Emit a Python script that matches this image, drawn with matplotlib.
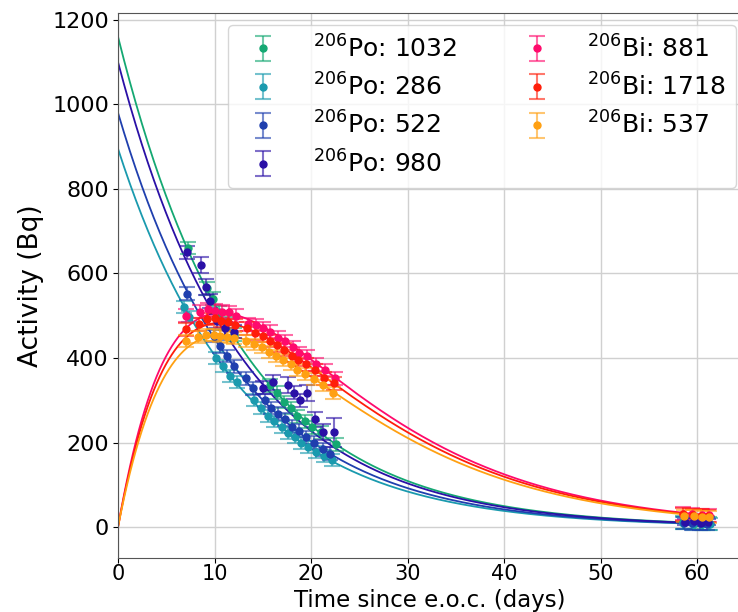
import numpy as np
import matplotlib
matplotlib.use("Agg")
import matplotlib.pyplot as plt
from matplotlib.colors import to_rgba

# half-lives (days) used for the fitted curves
T_PO = 8.8
T_BI = 6.243

# --- 206Po (decay) series ---
po_labels = ["1032", "286", "522", "980"]
po_colors = ["#14a872", "#1a9aae", "#1f3fae", "#2a10a6"]
po_fit_A0 = [1160, 895, 980, 1100]

po1032_t = [7.3, 9.2, 9.8, 10.5, 11.2, 12.0, 15.8, 16.5, 17.2, 17.9, 18.6, 19.4, 20.1, 21.0, 22.6, 58.6, 59.8, 60.6, 61.2]
po1032_a = [660, 565, 540, 508, 482, 455, 335, 318, 296, 282, 262, 250, 236, 224, 196, 11, 10, 9, 9]
po286_t = [6.8, 7.4, 10.2, 10.9, 11.6, 12.3, 14.1, 14.8, 15.5, 16.2, 17.0, 17.6, 18.3, 19.0, 19.7, 20.5, 21.3, 22.2, 58.5, 59.6, 60.5, 61.3]
po286_a = [520, 498, 400, 382, 358, 343, 300, 282, 262, 250, 237, 222, 212, 198, 190, 178, 168, 158, 9, 8, 7, 7]
po522_t = [7.1, 9.9, 10.6, 11.3, 12.0, 13.3, 14.0, 15.2, 15.9, 16.6, 17.3, 18.0, 18.8, 19.5, 20.3, 21.2, 22.0, 58.7, 59.5, 60.3, 61.0]
po522_a = [552, 452, 428, 405, 380, 352, 328, 300, 282, 268, 255, 238, 228, 212, 200, 184, 174, 10, 9, 9, 8]
po980_t = [7.2, 8.6, 9.1, 9.5, 10.3, 11.1, 12.0, 15.0, 16.1, 17.6, 18.2, 18.9, 19.6, 20.4, 21.2, 22.4, 58.8, 59.7, 60.4, 61.1]
po980_a = [650, 620, 568, 535, 488, 470, 462, 330, 343, 336, 318, 300, 317, 255, 225, 224, 12, 14, 10, 12]
po980_err = [15, 20, 18, 16, 16, 15, 15, 16, 18, 18, 16, 16, 18, 18, 18, 35, 8, 8, 8, 8]

po_t = [po1032_t, po286_t, po522_t, po980_t]
po_a = [po1032_a, po286_a, po522_a, po980_a]
po_yerr = [15, 14, 15, po980_err]

# --- 206Bi (in-growth) series ---
bi_labels = ["881", "1718", "537"]
bi_colors = ["#ff0a6c", "#ff1e0a", "#ffa012"]
bi_fit_B = [4030, 3845, 3615]

bi881_t = [7.0, 8.5, 9.3, 10.0, 10.8, 11.5, 12.2, 13.5, 14.3, 15.0, 15.8, 16.6, 17.3, 18.1, 18.8, 19.6, 20.5, 21.4, 22.5, 58.5, 59.5, 60.5, 61.2]
bi881_a = [500, 510, 515, 512, 510, 508, 500, 480, 478, 470, 462, 448, 440, 425, 412, 405, 385, 372, 352, 32, 30, 29, 28]
bi1718_t = [7.0, 8.4, 9.2, 10.0, 10.7, 11.4, 12.1, 13.4, 14.2, 15.0, 15.7, 16.5, 17.2, 18.0, 18.7, 19.5, 20.4, 21.3, 22.4, 58.6, 59.6, 60.4, 61.1]
bi1718_a = [468, 480, 492, 495, 488, 486, 478, 470, 458, 452, 440, 430, 420, 405, 395, 385, 372, 352, 340, 30, 28, 27, 26]
bi537_t = [7.0, 8.3, 9.1, 9.9, 10.6, 11.3, 12.0, 13.3, 14.1, 14.9, 15.6, 16.4, 17.1, 17.9, 18.6, 19.4, 20.3, 21.2, 22.3, 58.7, 59.7, 60.5, 61.2]
bi537_a = [440, 450, 455, 455, 452, 450, 448, 440, 432, 425, 415, 405, 395, 385, 372, 362, 350, 335, 318, 27, 26, 25, 24]

bi_t = [bi881_t, bi1718_t, bi537_t]
bi_a = [bi881_a, bi1718_a, bi537_a]
bi_yerr = [15, 15, 14]

lam_po = np.log(2) / T_PO
lam_bi = np.log(2) / T_BI
tt = np.linspace(0, 61.7, 400)

fig = plt.figure(figsize=(7.38, 6.12), dpi=100)
ax = fig.add_axes([118 / 738, 1 - 558 / 612, (66 * 9.65) / 738, (558 - 13) / 612])

handles = []
labels = []
for t, a, ye, c, lab, A0 in zip(po_t, po_a, po_yerr, po_colors, po_labels, po_fit_A0):
    h = ax.errorbar(t, a, yerr=ye, fmt="o", ms=5, color=c,
                    ecolor=to_rgba(c, 0.6), elinewidth=1.5, capsize=5.5, capthick=1.5, zorder=3)
    ax.plot(tt, A0 * np.exp(-lam_po * tt), color=c, lw=1.3, zorder=2)
    handles.append(h)
    labels.append(r"$^{206}$Po: " + lab)

for t, a, ye, c, lab, B in zip(bi_t, bi_a, bi_yerr, bi_colors, bi_labels, bi_fit_B):
    h = ax.errorbar(t, a, yerr=ye, fmt="o", ms=5, color=c,
                    ecolor=to_rgba(c, 0.6), elinewidth=1.5, capsize=5.5, capthick=1.5, zorder=3)
    ax.plot(tt, B * (np.exp(-lam_po * tt) - np.exp(-lam_bi * tt)), color=c, lw=1.3, zorder=2)
    handles.append(h)
    labels.append(r"$^{206}$Bi: " + lab)

ax.set_xlim(0, 66)
ax.set_ylim(-73, 1216)
ax.set_xticks(range(0, 61, 10))
ax.set_yticks(range(0, 1201, 200))
ax.tick_params(axis="y", labelsize=16, pad=3)
ax.tick_params(axis="x", labelsize=15, pad=1)
ax.grid(True, color="#d0d0d0", lw=1)
ax.set_axisbelow(True)
for s in ax.spines.values():
    s.set_color("#555555")

ax.set_xlabel("Time since e.o.c. (days)", fontsize=16.5)
# the label sits right at the bottom edge of the figure
ax.xaxis.set_label_coords(430 / 738, 0, transform=fig.transFigure)
ax.xaxis.label.set_verticalalignment("bottom")
ax.set_ylabel("Activity (Bq)", fontsize=19, labelpad=6)

ax.legend(handles, labels, ncol=2, fontsize=18, loc="upper left",
          bbox_to_anchor=(228 / 738, 1 - 25 / 612), bbox_transform=fig.transFigure,
          borderaxespad=0, handletextpad=1.0, labelspacing=0.45, columnspacing=2.2)

fig.savefig("out.png", dpi=100)
